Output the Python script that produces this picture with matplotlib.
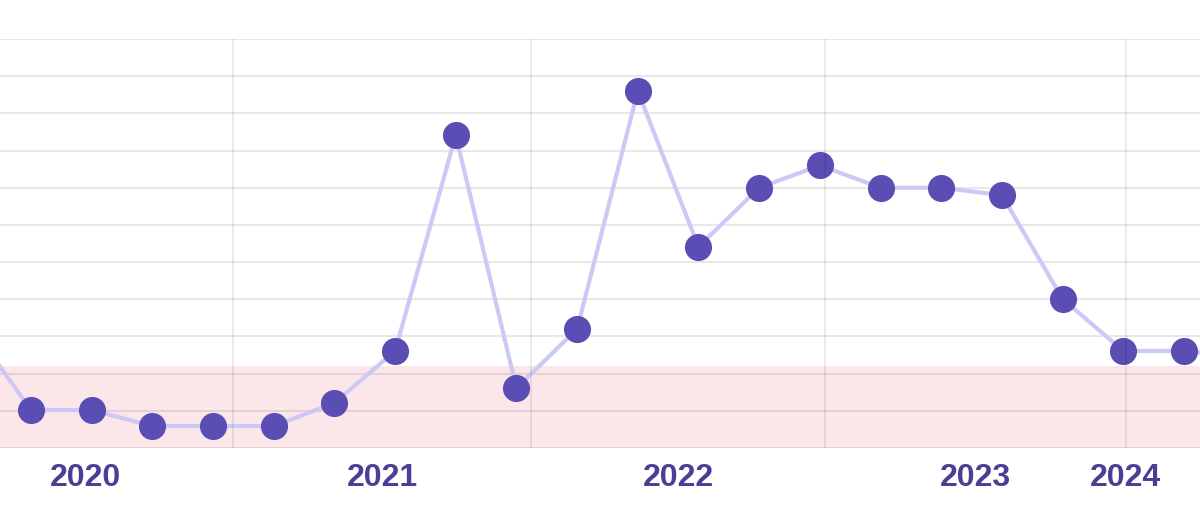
import numpy as np
import matplotlib
matplotlib.use('Agg')
import matplotlib.pyplot as plt

plt.rcParams['font.family'] = ['Liberation Sans', 'DejaVu Sans']

# Значения по периодам (индекс -1 уходит за левый край, 20 - за правый)
periods = np.arange(-1, 21)
values = [3.31, 1.02, 1.02, 0.59, 0.59, 0.59, 1.21, 2.61, 8.41, 1.61, 3.20,
          9.60, 5.41, 7.00, 7.60, 7.00, 7.00, 6.80, 4.01, 2.61, 2.61, 2.45]

# Подписи годов и границы лет (в единицах периодов)
year_labels = ['2020', '2021', '2022', '2023', '2024']
year_label_pos = [0.906, 5.784, 10.662, 15.557, 18.029]
year_lines = [3.329, 8.240, 13.085, 18.046]

band_low, band_high = 0.0, 2.2

fig = plt.figure(figsize=(12, 5.1), dpi=100)
ax = fig.add_axes([0, 61 / 510, 1, 409 / 510])

ax.axhspan(band_low, band_high, color='#fbe6ea', zorder=0, lw=0)

ax.plot(periods, values, color='#cdc8f6', linewidth=3.0, zorder=2,
        solid_capstyle='round')
ax.plot(periods, values, linestyle='none', marker='o', markersize=18.5,
        markerfacecolor='#5a4db3', markeredgecolor='#5a4db3', zorder=3)

ax.set_xlim(-0.511, 19.265)
ax.set_ylim(0, 11)
ax.set_yticks(np.arange(0, 12))
ax.yaxis.grid(True, color='black', alpha=0.09, linewidth=1.5, zorder=1)
ax.set_axisbelow(True)
for xv in year_lines:
    ax.axvline(xv, color='black', alpha=0.09, linewidth=1.2, zorder=4)

ax.set_xticks(year_label_pos)
ax.set_xticklabels(year_labels, fontsize=23, fontweight='bold',
                   color='#4a3f94')
ax.tick_params(axis='x', length=0, pad=10)
ax.tick_params(axis='y', length=0, labelleft=False)
for s in ax.spines.values():
    s.set_visible(False)

fig.savefig('out.png', dpi=100)
plt.close(fig)
